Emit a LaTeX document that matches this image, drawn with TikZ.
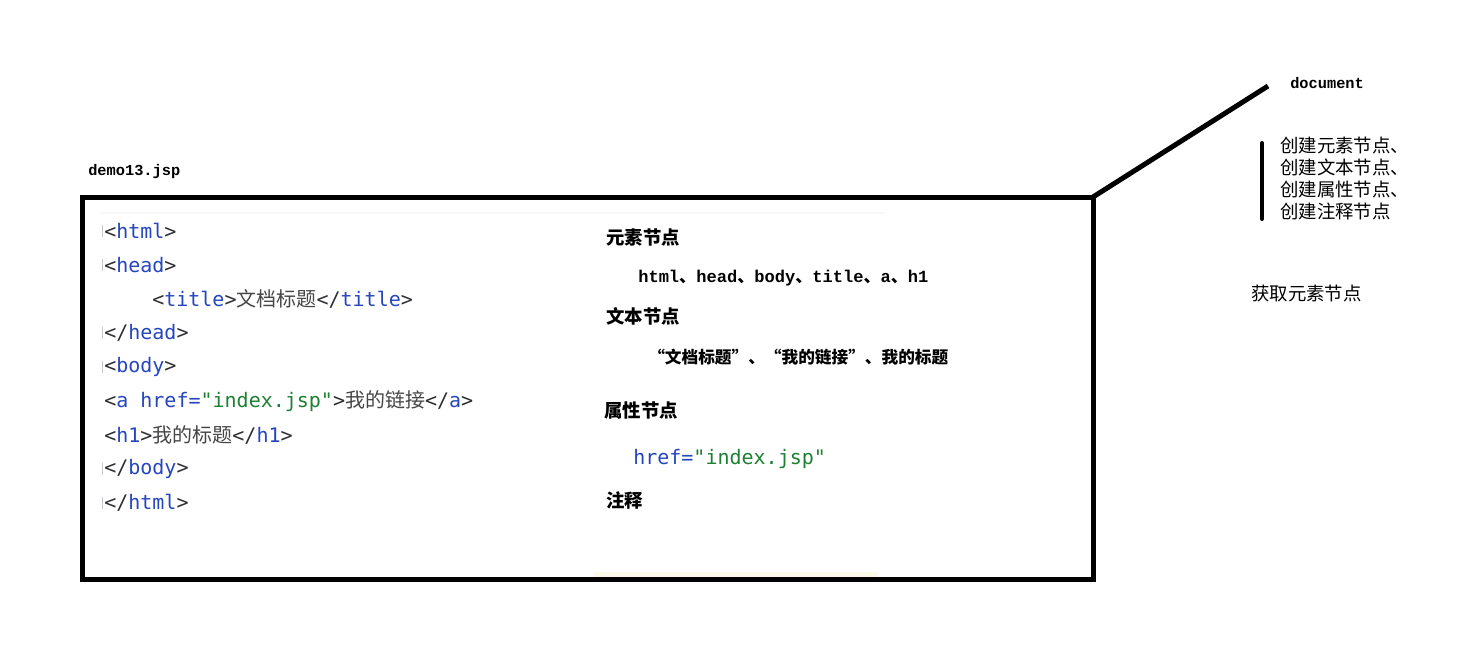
\documentclass[tikz,border=0pt]{standalone}
\usepackage{fontspec}
\setmonofont{DejaVu Sans Mono}
\newfontfamily\cjk{Noto Sans CJK SC}
\newfontfamily\lmono{Liberation Mono}
\definecolor{tagblue}{RGB}{38,70,190}
\definecolor{brk}{RGB}{45,45,50}
\definecolor{strgreen}{RGB}{30,128,50}
\definecolor{cjkgray}{RGB}{70,70,70}
\definecolor{gut}{RGB}{200,200,205}
\definecolor{faintline}{RGB}{246,247,250}
\definecolor{faintyellow}{RGB}{253,248,234}
\newcommand{\tg}[1]{\textcolor{tagblue}{#1}}
\newcommand{\bk}[1]{\textcolor{brk}{#1}}
\newcommand{\st}[1]{\textcolor{strgreen}{#1}}
\newcommand{\zh}[1]{\textcolor{cjkgray}{\cjk #1}}
\begin{document}
\begin{tikzpicture}[x=0.75pt,y=-0.75pt,
  code/.style={anchor=west,inner sep=0pt,font=\ttfamily\fontsize{15pt}{18pt}\selectfont},
  label/.style={anchor=west,inner sep=0pt,font=\cjk\bfseries\fontsize{13.8pt}{16pt}\selectfont},
  monolab/.style={anchor=west,inner sep=0pt,font=\lmono\bfseries\fontsize{11.5pt}{14pt}\selectfont},
  gutter/.style={draw=gut,line width=0.6pt},
  heavy/.style={line width=3.75pt}]
\useasboundingbox (0,0) rectangle (1471,658);
\fill[white] (0,0) rectangle (1471,658);
% faint decorations
\draw[draw=faintline,line width=0.8pt] (100,213) -- (885,213);
\fill[faintyellow] (594,572) rectangle (878,577);
% main box
\node[draw,heavy,inner sep=0pt,outer sep=0pt,minimum width=758.25pt,minimum height=286.5pt] (box) at (587.5,388) {};
\coordinate (docend) at (1268,86);
\draw[heavy] (box.north east) -- (docend);
% labels
\node[monolab] (demo) at (88,172) {demo13.jsp};
\node[monolab] (doc) at (1290,83) {document};
% gutter marks
\foreach \yy in {231,265,333,367,469,503} \draw[gutter] (102,\yy-6) -- (102,\yy+6);
% code
\node[code] (l1) at (104,231) {\bk{<}\tg{html}\bk{>}};
\node[code] (l2) at (104,265) {\bk{<}\tg{head}\bk{>}};
\node[code] (l3) at (152,299) {\bk{<}\tg{title}\bk{>}\zh{文档标题}\bk{</}\tg{title}\bk{>}};
\node[code] (l4) at (104,333) {\bk{</}\tg{head}\bk{>}};
\node[code] (l5) at (104,367) {\bk{<}\tg{body}\bk{>}};
\node[code] (l6) at (104,401) {\bk{<}\tg{a href=}\st{"index.jsp"}\bk{>}\zh{我的链接}\bk{</}\tg{a}\bk{>}};
\node[code] (l7) at (104,435) {\bk{<}\tg{h1}\bk{>}\zh{我的标题}\bk{</}\tg{h1}\bk{>}};
\node[code] (l8) at (104,469) {\bk{</}\tg{body}\bk{>}};
\node[code] (l9) at (104,503) {\bk{</}\tg{html}\bk{>}};
% right column
\node[label] (elem) at (606,237) {元素节点};
\node[monolab,font=\lmono\bfseries\fontsize{12.8pt}{14pt}\selectfont] (elist) at (638,278) {html{\cjk 、}head{\cjk 、}body{\cjk 、}title{\cjk 、}a{\cjk 、}h1};
\node[label] (text) at (606,316) {文本节点};
\node[label,font=\cjk\bfseries\fontsize{12.5pt}{15pt}\selectfont] (tlist) at (648,357) {“文档标题”、“我的链接”、我的标题};
\node[label] (attr) at (604,410) {属性节点};
\node[code] (href) at (633,459) {\tg{href=}\st{"index.jsp"}};
\node[label] (comm) at (606,500) {注释};
% far right
\draw[line width=3pt,line cap=round] (1262,143) -- (1262,219);
\node[label,font=\cjk\fontsize{13.8pt}{16.5pt}\selectfont,align=left,anchor=north west] (create) at (1280,137) {创建元素节点、\\创建文本节点、\\创建属性节点、\\创建注释节点};
\node[label,font=\cjk\fontsize{13.8pt}{16pt}\selectfont] (get) at (1251,294) {获取元素节点};
\end{tikzpicture}
\end{document}
